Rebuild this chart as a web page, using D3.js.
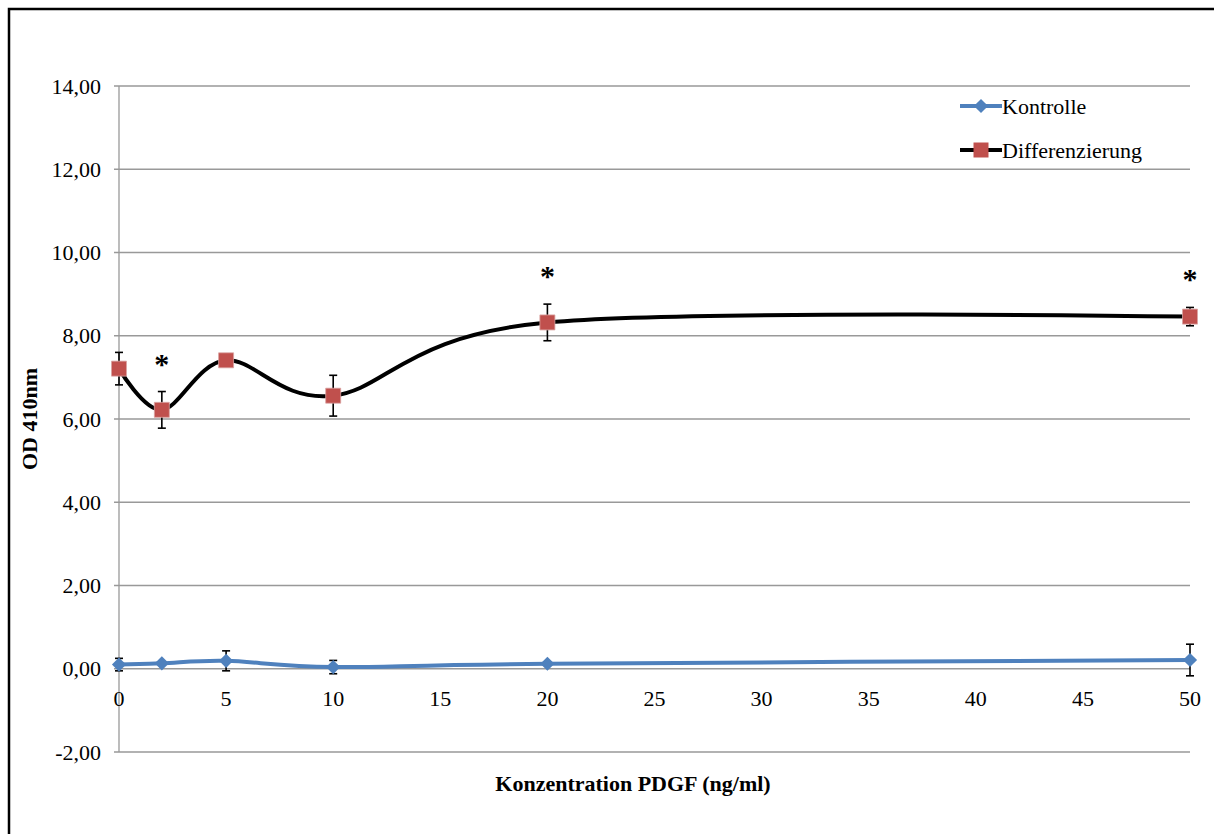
<head>
    <meta charset="utf-8">
    <title>OD 410nm vs PDGF</title>
    <script src="https://cdn.jsdelivr.net/npm/d3@7"></script>
</head>

<body style="margin:0">

<div id="container"></div>

<script type="text/javascript">
    // data
    const conc = [0, 2, 5, 10, 20, 50];
    const kontrolle = [0.10, 0.13, 0.19, 0.04, 0.12, 0.21];
    const kontrolleErr = [0.15, 0.0, 0.24, 0.16, 0.0, 0.38];
    const diff = [7.21, 6.22, 7.41, 6.56, 8.32, 8.46];
    const diffErr = [0.39, 0.44, 0.0, 0.49, 0.44, 0.22];
    const starAt = [2, 20, 50];
    const xTicks = [0, 5, 10, 15, 20, 25, 30, 35, 40, 45, 50];
    const yTicks = [-2, 0, 2, 4, 6, 8, 10, 12, 14];

    const W = 1214, H = 834;
    const margin = {top: 86, right: 24, bottom: 82, left: 119};
    const width = 1190 - margin.left,
        height = 752 - margin.top;
    const serif = "Liberation Serif, Times New Roman, DejaVu Serif, serif";

    const svg = d3.select("#container")
        .append("svg")
        .attr("width", W)
        .attr("height", H)
        .attr("font-family", serif);

    // outer frame
    svg.append("rect")
        .attr("x", 9).attr("y", 9)
        .attr("width", W + 10).attr("height", H + 10)
        .attr("fill", "white")
        .attr("stroke", "black")
        .attr("stroke-width", 2.5);

    const g = svg.append("g")
        .attr("transform", `translate(${margin.left},${margin.top})`);

    const x = d3.scaleLinear().domain([0, 50]).range([0, width]);
    const y = d3.scaleLinear().domain([-2, 14]).range([height, 0]);

    // gridlines
    g.selectAll("line.grid")
        .data(yTicks)
        .join("line")
        .attr("x1", -5)
        .attr("x2", width)
        .attr("y1", d => y(d))
        .attr("y2", d => y(d))
        .attr("stroke", "#999")
        .attr("stroke-width", 1.3);

    // y axis
    g.append("line")
        .attr("x1", 0).attr("x2", 0)
        .attr("y1", 0).attr("y2", height)
        .attr("stroke", "#999")
        .attr("stroke-width", 1.3);

    g.selectAll("text.ytick")
        .data(yTicks)
        .join("text")
        .attr("x", -18)
        .attr("y", d => y(d))
        .attr("dy", "0.35em")
        .attr("text-anchor", "end")
        .attr("font-family", serif)
        .attr("font-size", 22)
        .text(d => d3.format(".2f")(d).replace(".", ",").replace("\u2212", "-"));

    g.selectAll("text.xtick")
        .data(xTicks)
        .join("text")
        .attr("x", d => x(d))
        .attr("y", y(0) + 37)
        .attr("text-anchor", "middle")
        .attr("font-family", serif)
        .attr("font-size", 22)
        .text(d => d);

    // axis titles
    svg.append("text")
        .attr("x", 633)
        .attr("y", 791)
        .attr("text-anchor", "middle")
        .attr("font-family", serif)
        .attr("font-size", 22)
        .attr("font-weight", "bold")
        .text("Konzentration PDGF (ng/ml)");

    svg.append("text")
        .attr("transform", `translate(37, 419) rotate(-90)`)
        .attr("text-anchor", "middle")
        .attr("font-family", serif)
        .attr("font-size", 22)
        .attr("font-weight", "bold")
        .text("OD 410nm");

    const line = d3.line()
        .x(d => x(d[0]))
        .y(d => y(d[1]))
        .curve(d3.curveCardinal.tension(0));

    const series = [
        {name: "Kontrolle", vals: kontrolle, err: kontrolleErr, stroke: "#4F81BD", fill: "#4F81BD", rot: 45, size: 100},
        {name: "Differenzierung", vals: diff, err: diffErr, stroke: "#000000", fill: "#C0504D", rot: 0, size: 225}
    ];

    series.forEach(s => {
        const pts = conc.map((c, i) => [c, s.vals[i], s.err[i]]);

        g.append("path")
            .datum(pts)
            .attr("d", line)
            .attr("fill", "none")
            .attr("stroke", s.stroke)
            .attr("stroke-width", 4);

        // error bars
        const eb = g.selectAll(null)
            .data(pts.filter(p => p[2] > 0))
            .join("g")
            .attr("stroke", "black")
            .attr("stroke-width", 1.6);
        eb.append("line")
            .attr("x1", d => x(d[0])).attr("x2", d => x(d[0]))
            .attr("y1", d => y(d[1] + d[2])).attr("y2", d => y(d[1] - d[2]));
        eb.append("line")
            .attr("x1", d => x(d[0]) - 4).attr("x2", d => x(d[0]) + 4)
            .attr("y1", d => y(d[1] + d[2])).attr("y2", d => y(d[1] + d[2]));
        eb.append("line")
            .attr("x1", d => x(d[0]) - 4).attr("x2", d => x(d[0]) + 4)
            .attr("y1", d => y(d[1] - d[2])).attr("y2", d => y(d[1] - d[2]));

        g.selectAll(null)
            .data(pts)
            .join("path")
            .attr("transform", d => `translate(${x(d[0])},${y(d[1])}) rotate(${s.rot})`)
            .attr("d", d3.symbol().type(d3.symbolSquare).size(s.size))
            .attr("fill", s.fill)
            .attr("stroke", s.rot === 0 ? "#d9a3a2" : "none")
            .attr("stroke-width", 0.8);
    });

    // significance stars
    g.selectAll("text.star")
        .data(starAt)
        .join("text")
        .attr("x", d => x(d))
        .attr("y", d => {
            const i = conc.indexOf(d);
            return y(diff[i] + diffErr[i]) - 18;
        })
        .attr("text-anchor", "middle")
        .attr("font-family", serif)
        .attr("font-size", 30)
        .attr("font-weight", "bold")
        .text("*");

    // legend
    const legend = svg.append("g")
        .attr("transform", "translate(960, 106)");
    series.forEach((s, i) => {
        const row = legend.append("g").attr("transform", `translate(0, ${i * 44})`);
        row.append("line")
            .attr("x1", 0).attr("x2", 42)
            .attr("stroke", s.stroke)
            .attr("stroke-width", 4);
        row.append("path")
            .attr("transform", `translate(21,0) rotate(${s.rot})`)
            .attr("d", d3.symbol().type(d3.symbolSquare).size(s.size))
            .attr("fill", s.fill);
        row.append("text")
            .attr("x", 42)
            .attr("dy", "0.35em")
            .attr("font-family", serif)
            .attr("font-size", 22)
            .text(s.name);
    });
</script>
</body>
